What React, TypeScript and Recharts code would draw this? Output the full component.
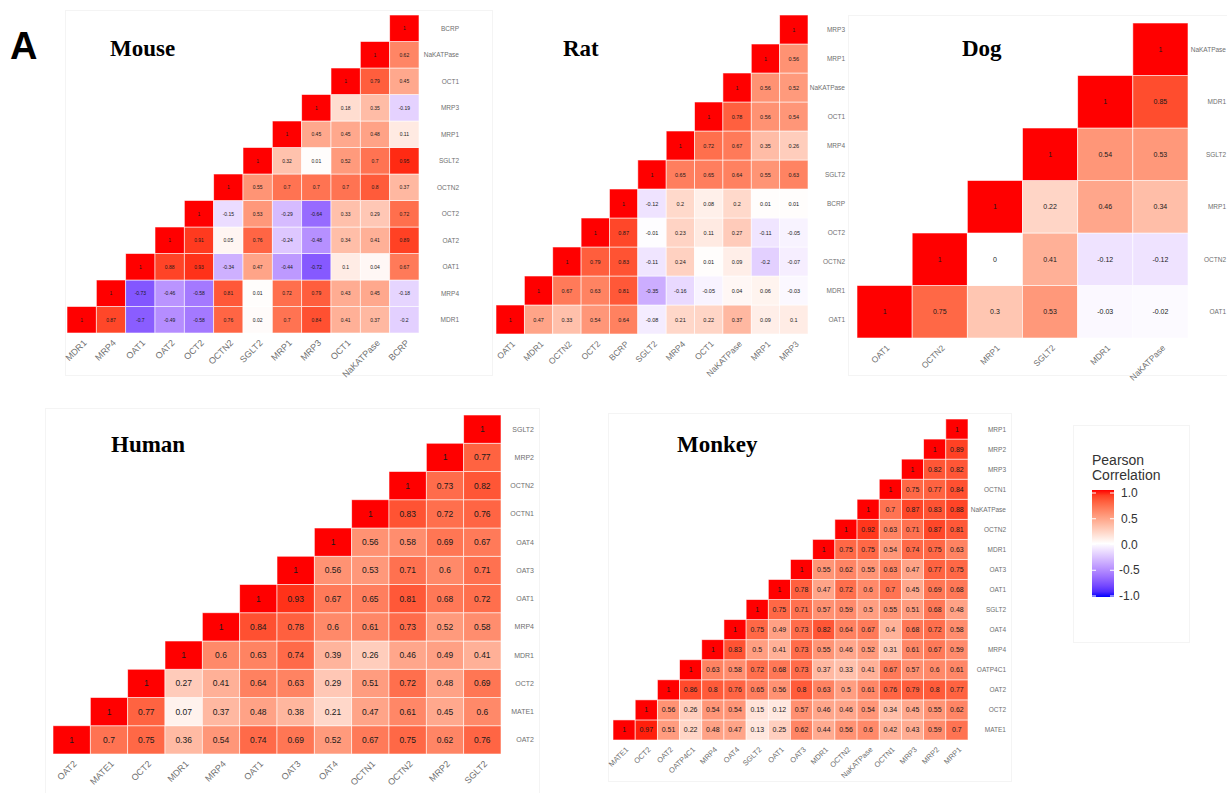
import React from "react";
import { Scatter, ScatterChart, XAxis, YAxis } from "recharts";

// gene order: left to right on x, bottom to top on y
const MOUSE_GENES = ["MDR1", "MRP4", "OAT1", "OAT2", "OCT2", "OCTN2", "SGLT2", "MRP1", "MRP3", "OCT1", "NaKATPase", "BCRP"];
// row i holds the values for columns i..n-1
const MOUSE_ROWS = [
  [1, 0.87, -0.7, -0.49, -0.58, 0.76, 0.02, 0.7, 0.84, 0.41, 0.37, -0.2],
  [1, -0.73, -0.46, -0.58, 0.81, 0.01, 0.72, 0.79, 0.43, 0.45, -0.18],
  [1, 0.88, 0.93, -0.34, 0.47, -0.44, -0.72, 0.1, 0.04, 0.67],
  [1, 0.91, 0.05, 0.76, -0.24, -0.48, 0.34, 0.41, 0.89],
  [1, -0.15, 0.53, -0.29, -0.64, 0.33, 0.29, 0.72],
  [1, 0.55, 0.7, 0.7, 0.7, 0.8, 0.37],
  [1, 0.32, 0.01, 0.52, 0.7, 0.95],
  [1, 0.45, 0.45, 0.48, 0.11],
  [1, 0.18, 0.35, -0.19],
  [1, 0.79, 0.45],
  [1, 0.62],
  [1],
];

const RAT_GENES = ["OAT1", "MDR1", "OCTN2", "OCT2", "BCRP", "SGLT2", "MRP4", "OCT1", "NaKATPase", "MRP1", "MRP3"];
const RAT_ROWS = [
  [1, 0.47, 0.33, 0.54, 0.64, -0.08, 0.21, 0.22, 0.37, 0.09, 0.1],
  [1, 0.67, 0.63, 0.81, -0.35, -0.16, -0.05, 0.04, 0.06, -0.03],
  [1, 0.79, 0.83, -0.11, 0.24, 0.01, 0.09, -0.2, -0.07],
  [1, 0.87, -0.01, 0.23, 0.11, 0.27, -0.11, -0.05],
  [1, -0.12, 0.2, 0.08, 0.2, 0.01, 0.01],
  [1, 0.65, 0.65, 0.64, 0.55, 0.63],
  [1, 0.72, 0.67, 0.35, 0.26],
  [1, 0.78, 0.56, 0.54],
  [1, 0.56, 0.52],
  [1, 0.56],
  [1],
];

const DOG_GENES = ["OAT1", "OCTN2", "MRP1", "SGLT2", "MDR1", "NaKATPase"];
const DOG_ROWS = [
  [1, 0.75, 0.3, 0.53, -0.03, -0.02],
  [1, 0, 0.41, -0.12, -0.12],
  [1, 0.22, 0.46, 0.34],
  [1, 0.54, 0.53],
  [1, 0.85],
  [1],
];

const HUMAN_GENES = ["OAT2", "MATE1", "OCT2", "MDR1", "MRP4", "OAT1", "OAT3", "OAT4", "OCTN1", "OCTN2", "MRP2", "SGLT2"];
const HUMAN_ROWS = [
  [1, 0.7, 0.75, 0.36, 0.54, 0.74, 0.69, 0.52, 0.67, 0.75, 0.62, 0.76],
  [1, 0.77, 0.07, 0.37, 0.48, 0.38, 0.21, 0.47, 0.61, 0.45, 0.6],
  [1, 0.27, 0.41, 0.64, 0.63, 0.29, 0.51, 0.72, 0.48, 0.69],
  [1, 0.6, 0.63, 0.74, 0.39, 0.26, 0.46, 0.49, 0.41],
  [1, 0.84, 0.78, 0.6, 0.61, 0.73, 0.52, 0.58],
  [1, 0.93, 0.67, 0.65, 0.81, 0.68, 0.72],
  [1, 0.56, 0.53, 0.71, 0.6, 0.71],
  [1, 0.56, 0.58, 0.69, 0.67],
  [1, 0.83, 0.72, 0.76],
  [1, 0.73, 0.82],
  [1, 0.77],
  [1],
];

const MONKEY_GENES = ["MATE1", "OCT2", "OAT2", "OATP4C1", "MRP4", "OAT4", "SGLT2", "OAT1", "OAT3", "MDR1", "OCTN2", "NaKATPase", "OCTN1", "MRP3", "MRP2", "MRP1"];
const MONKEY_ROWS = [
  [1, 0.97, 0.51, 0.22, 0.48, 0.47, 0.13, 0.25, 0.62, 0.44, 0.56, 0.6, 0.42, 0.43, 0.59, 0.7],
  [1, 0.56, 0.26, 0.54, 0.54, 0.15, 0.12, 0.57, 0.46, 0.46, 0.54, 0.34, 0.45, 0.55, 0.62],
  [1, 0.86, 0.8, 0.76, 0.65, 0.56, 0.8, 0.63, 0.5, 0.61, 0.76, 0.79, 0.8, 0.77],
  [1, 0.63, 0.58, 0.72, 0.68, 0.73, 0.37, 0.33, 0.41, 0.67, 0.57, 0.6, 0.61],
  [1, 0.83, 0.5, 0.41, 0.73, 0.55, 0.46, 0.52, 0.31, 0.61, 0.67, 0.59],
  [1, 0.75, 0.49, 0.73, 0.82, 0.64, 0.67, 0.4, 0.68, 0.72, 0.58],
  [1, 0.75, 0.71, 0.57, 0.59, 0.5, 0.55, 0.51, 0.68, 0.48],
  [1, 0.78, 0.47, 0.72, 0.6, 0.7, 0.45, 0.69, 0.68],
  [1, 0.55, 0.62, 0.55, 0.63, 0.47, 0.77, 0.75],
  [1, 0.75, 0.75, 0.54, 0.74, 0.75, 0.63],
  [1, 0.92, 0.63, 0.71, 0.87, 0.81],
  [1, 0.7, 0.87, 0.83, 0.88],
  [1, 0.75, 0.77, 0.84],
  [1, 0.82, 0.82],
  [1, 0.89],
  [1],
];

const LEGEND_TICKS = [1, 0.5, 0, -0.5, -1];

const SANS = "'Liberation Sans', Arial, sans-serif";
const SERIF = "'Liberation Serif', 'Times New Roman', serif";

// ggplot-ish scale_fill_gradient2(low = blue, mid = white, high = red), Lab interpolation
const LAB_WHITE = [100, 0, 0];
const LAB_RED = [53.24, 80.09, 67.2];
const LAB_BLUE = [32.3, 79.19, -107.86];

function labToHex([L, a, b]: number[]) {
  const fy = (L + 16) / 116;
  const fx = fy + a / 500;
  const fz = fy - b / 200;
  const inv = (f: number) => (f > 6 / 29 ? f * f * f : 3 * (6 / 29) ** 2 * (f - 4 / 29));
  const X = 0.95047 * inv(fx);
  const Y = inv(fy);
  const Z = 1.08883 * inv(fz);
  const lin = [
    3.2406 * X - 1.5372 * Y - 0.4986 * Z,
    -0.9689 * X + 1.8758 * Y + 0.0415 * Z,
    0.0557 * X - 0.204 * Y + 1.057 * Z,
  ];
  return (
    "#" +
    lin
      .map((c) => {
        const cl = Math.min(1, Math.max(0, c));
        const s = cl <= 0.0031308 ? 12.92 * cl : 1.055 * Math.pow(cl, 1 / 2.4) - 0.055;
        return Math.round(s * 255).toString(16).padStart(2, "0");
      })
      .join("")
  );
}

function corrColor(v: number) {
  const end = v >= 0 ? LAB_RED : LAB_BLUE;
  const t = Math.min(1, Math.abs(v));
  return labToHex(LAB_WHITE.map((w, i) => w + t * (end[i] - w)));
}

interface CellDatum {
  x: number;
  y: number;
  v: number;
}

const toCells = (rows: number[][]): CellDatum[] =>
  rows.flatMap((row, i) => row.map((v, k) => ({ x: i + k, y: i, v })));

interface HeatmapProps {
  genes: string[];
  rows: number[][];
  box: [number, number, number, number]; // grid left, top, right, bottom on the page
  labelRight: number;
  rowFont: number;
  colFont: number;
  cellFont: number;
}

function Heatmap({ genes, rows, box, labelRight, rowFont, colFont, cellFont }: HeatmapProps) {
  const n = genes.length;
  const [x0, y0, x1, y1] = box;
  const gw = x1 - x0;
  const gh = y1 - y0;
  const pad = 2;
  const padL = 40; // room for the first rotated label
  const axisW = labelRight - x1 + 4;
  const axisH = 60;
  const cw = gw / n;
  const ch = gh / n;
  const ticks = genes.map((_, i) => i);
  const data = toCells(rows);

  const rowTick = (p: any) => (
    <text
      x={p.x + (labelRight - x1)}
      y={p.y}
      textAnchor="end"
      dominantBaseline="central"
      fontSize={rowFont}
      fontFamily={SANS}
      fill="#6f6f6f"
    >
      {genes[p.payload.value]}
    </text>
  );

  const colTick = (p: any) => (
    <text
      transform={`translate(${p.x + 1},${p.y + 6}) rotate(-45)`}
      textAnchor="end"
      dominantBaseline="hanging"
      fontSize={colFont}
      fontFamily={SANS}
      fill="#6f6f6f"
    >
      {genes[p.payload.value]}
    </text>
  );

  const cell = (p: any) => {
    const v = p.payload?.v ?? p.v;
    return (
      <g>
        <rect
          x={p.cx - cw / 2}
          y={p.cy - ch / 2}
          width={cw}
          height={ch}
          fill={corrColor(v)}
          stroke="#ffffff"
          strokeOpacity={0.7}
          strokeWidth={0.8}
        />
        <text
          x={p.cx}
          y={p.cy}
          textAnchor="middle"
          dominantBaseline="central"
          fontSize={cellFont}
          fontFamily={SANS}
          fill="#1a1a1a"
        >
          {String(v)}
        </text>
      </g>
    );
  };

  return (
    <div style={{ position: "absolute", left: x0 - padL, top: y0 - pad }}>
      <ScatterChart
        width={gw + padL + axisW}
        height={gh + pad + axisH}
        margin={{ top: pad, left: padL, right: 0, bottom: 0 }}
      >
        <XAxis
          type="number"
          dataKey="x"
          domain={[-0.5, n - 0.5]}
          ticks={ticks}
          interval={0}
          height={axisH}
          axisLine={false}
          tickLine={false}
          tickSize={0}
          tickMargin={0}
          tick={colTick}
        />
        <YAxis
          type="number"
          dataKey="y"
          orientation="right"
          domain={[-0.5, n - 0.5]}
          ticks={ticks}
          interval={0}
          width={axisW}
          axisLine={false}
          tickLine={false}
          tickSize={0}
          tickMargin={0}
          tick={rowTick}
        />
        <Scatter data={data} shape={cell} isAnimationActive={false} />
      </ScatterChart>
    </div>
  );
}

const faint = (left: number, top: number, right: number, bottom: number) => (
  <div
    style={{
      position: "absolute",
      left,
      top,
      width: right - left,
      height: bottom - top,
      border: "1px solid #f4f4f4",
      boxSizing: "border-box",
    }}
  />
);

function Legend() {
  const top = 490;
  const bottom = 597;
  const barX = 1092;
  const barW = 22;
  const yOf = (v: number) => 544.5 - v * 51.5;
  const stops = Array.from({ length: 21 }, (_, i) => 1 - i * 0.1);
  return (
    <svg width={1227} height={793} style={{ position: "absolute", left: 0, top: 0, pointerEvents: "none" }}>
      <defs>
        <linearGradient id="corrbar" x1="0" y1="0" x2="0" y2="1">
          {stops.map((v, i) => (
            <stop key={i} offset={`${(i / 20) * 100}%`} stopColor={corrColor(v)} />
          ))}
        </linearGradient>
      </defs>
      <text x={10} y={59} fontSize={38} fontWeight="bold" fontFamily={SANS} fill="#000">
        A
      </text>
      {[
        ["Mouse", 110, 56],
        ["Rat", 563, 56],
        ["Dog", 962, 56],
        ["Human", 111, 452],
        ["Monkey", 677, 452],
      ].map(([t, x, y]) => (
        <text key={t as string} x={x as number} y={y as number} fontSize={23} fontWeight="bold" fontFamily={SERIF} fill="#000">
          {t}
        </text>
      ))}
      <text x={1092} y={465} fontSize={14} fontFamily={SANS} fill="#333">
        Pearson
      </text>
      <text x={1092} y={480} fontSize={14} fontFamily={SANS} fill="#333">
        Correlation
      </text>
      <rect x={barX} y={top} width={barW} height={bottom - top} fill="url(#corrbar)" />
      {LEGEND_TICKS.map((v) => (
        <g key={v}>
          <line x1={barX} x2={barX + 4} y1={yOf(v)} y2={yOf(v)} stroke="#fff" strokeWidth={1} />
          <line x1={barX + barW - 4} x2={barX + barW} y1={yOf(v)} y2={yOf(v)} stroke="#fff" strokeWidth={1} />
          <text
            x={v < 0 ? 1119 : 1121}
            y={yOf(v)}
            dominantBaseline="central"
            fontSize={12}
            fontFamily={SANS}
            fill="#333"
          >
            {v.toFixed(1)}
          </text>
        </g>
      ))}
    </svg>
  );
}

export default function App() {
  return (
    <div
      style={{
        position: "absolute",
        left: 0,
        top: 0,
        width: 1227,
        height: 793,
        overflow: "hidden",
        background: "#fff",
      }}
    >
      {faint(65, 10, 493, 376)}
      {faint(848, 15, 1240, 376)}
      {faint(45, 408, 540, 800)}
      {faint(608, 413, 1012, 782)}
      {faint(1073, 425, 1190, 643)}
      <Heatmap genes={MOUSE_GENES} rows={MOUSE_ROWS} box={[67, 15, 419, 333]} labelRight={459} rowFont={6.5} colFont={9} cellFont={5} />
      <Heatmap genes={RAT_GENES} rows={RAT_ROWS} box={[496, 15, 808, 334]} labelRight={845} rowFont={6.5} colFont={8.5} cellFont={5.5} />
      <Heatmap genes={DOG_GENES} rows={DOG_ROWS} box={[857, 23, 1188, 338]} labelRight={1226} rowFont={6.5} colFont={8.5} cellFont={7} />
      <Heatmap genes={HUMAN_GENES} rows={HUMAN_ROWS} box={[53, 415, 501, 754]} labelRight={534} rowFont={7} colFont={9} cellFont={8.5} />
      <Heatmap genes={MONKEY_GENES} rows={MONKEY_ROWS} box={[613, 419, 968, 740]} labelRight={1006} rowFont={6.5} colFont={7.5} cellFont={7} />
      <Legend />
    </div>
  );
}
